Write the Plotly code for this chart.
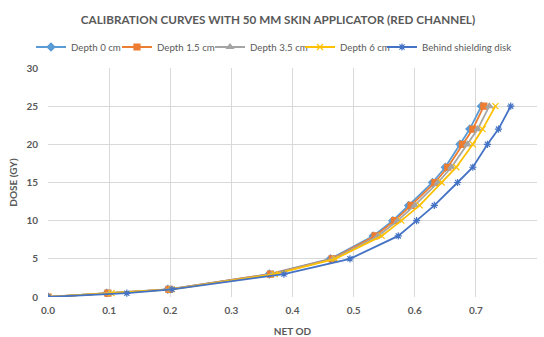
import plotly.graph_objects as go

dose = [0, 0.5, 1, 3, 5, 8, 10, 12, 15, 17, 20, 22, 25]
od_depth0 = [0, 0.096, 0.196, 0.362, 0.462, 0.532, 0.564, 0.590, 0.629, 0.650, 0.674, 0.690, 0.709]
od_depth15 = [0, 0.098, 0.198, 0.364, 0.465, 0.535, 0.567, 0.594, 0.633, 0.654, 0.678, 0.695, 0.713]
od_depth35 = [0, 0.101, 0.200, 0.367, 0.467, 0.540, 0.572, 0.600, 0.638, 0.660, 0.686, 0.703, 0.722]
od_depth6 = [0, 0.104, 0.202, 0.371, 0.470, 0.546, 0.578, 0.608, 0.644, 0.668, 0.695, 0.711, 0.732]
od_behind = [0, 0.129, 0.203, 0.386, 0.494, 0.573, 0.603, 0.632, 0.670, 0.695, 0.719, 0.737, 0.757]

names = ["Depth 0 cm", "Depth 1.5 cm", "Depth 3.5 cm", "Depth 6 cm", "Behind shielding disk"]
colors = ["#5B9BD5", "#ED7D31", "#A5A5A5", "#FFC000", "#4472C4"]
symbols = ["diamond", "square", "triangle-up", "x-thin-open", "asterisk-open"]
series = [od_depth0, od_depth15, od_depth35, od_depth6, od_behind]

# legend text start positions (px) for each entry, matching the reference layout
legend_text_x = [71, 157, 250, 340, 422]

W, H = 544, 337
FONT = "Lato"
fig = go.Figure()
legend_keys = ["legend", "legend2", "legend3", "legend4", "legend5"]
for name, col, sym, xs, lk in zip(names, colors, symbols, series, legend_keys):
    fig.add_trace(go.Scatter(
        x=xs, y=dose, mode="lines+markers", name=name, legend=lk,
        line=dict(color=col, width=1.8),
        marker=dict(symbol=sym, size=6, color=col, line=dict(color=col, width=1.2)),
    ))

layout_legends = {}
for lk, tx in zip(legend_keys, legend_text_x):
    layout_legends[lk] = dict(
        orientation="h", xref="container", yref="container",
        x=(tx - 40) / W, xanchor="left", y=1 - 47 / H, yanchor="middle",
        font=dict(family=FONT, size=9.7, color="#595959"),
        itemwidth=30, bgcolor="rgba(0,0,0,0)", borderwidth=0,
    )

fig.update_layout(
    width=W, height=H,
    margin=dict(l=48, r=7, t=68, b=40, autoexpand=False),
    paper_bgcolor="white", plot_bgcolor="white",
    font=dict(family=FONT, color="#595959", size=10),
    title=dict(text="<b>CALIBRATION CURVES WITH 50 MM SKIN APPLICATOR (RED CHANNEL)</b>",
               x=278 / W, xanchor="center", y=1 - 20 / H, yanchor="middle",
               font=dict(family=FONT, size=11.7, color="#595959")),
    showlegend=True,
    **layout_legends,
)
fig.update_xaxes(range=[0, 0.8], dtick=0.1, tickformat=".1f", showgrid=True,
                 gridcolor="#D9D9D9", gridwidth=1, zeroline=False, showline=False,
                 ticks="", ticklabelstandoff=6,
                 tickfont=dict(family=FONT, size=10, color="#595959", weight="bold"),
                 title=dict(text="<b>NET OD</b>", standoff=23,
                            font=dict(family=FONT, size=10, color="#595959")))
fig.update_yaxes(range=[0, 30], dtick=5, showgrid=True, gridcolor="#D9D9D9", gridwidth=1,
                 zeroline=False, showline=False, ticks="", ticklabelstandoff=9,
                 tickfont=dict(family=FONT, size=10, color="#595959", weight="bold"),
                 title=dict(text="<b>DOSE (GY)</b>", standoff=6,
                            font=dict(family=FONT, size=10, color="#595959")))
fig.write_html("out.html")
